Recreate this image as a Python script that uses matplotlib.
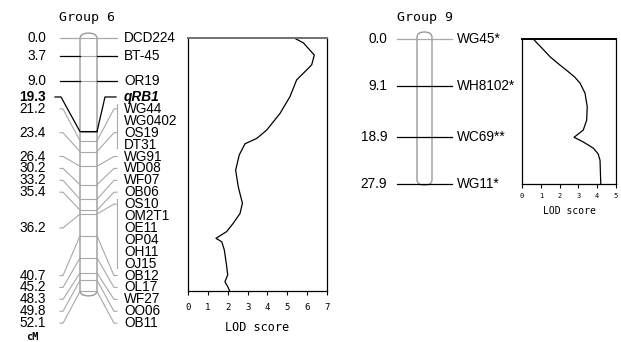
import numpy as np
import matplotlib
matplotlib.use("Agg")
import matplotlib.pyplot as plt
from matplotlib.patches import FancyBboxPatch

W, H = 621, 342
MONO = "DejaVu Sans Mono"
SANS = "Liberation Sans"
GRAY = "#a8a8a8"
LABEL_SIZE = 9.8

# Group 6 map data
G6_MARKERS = ["DCD224", "BT-45", "OR19", "qRB1", "WG44", "WG0402", "OS19",
              "DT31", "WG91", "WD08", "WF07", "OB06", "OS10", "OM2T1", "OE11",
              "OP04", "OH11", "OJ15", "OB12", "OL17", "WF27", "OO06", "OB11"]
G6_MARKER_CM = [0.0, 3.7, 9.0, 19.3, 21.2, 21.2, 23.4, 23.4, 26.4, 30.2, 33.2,
                35.4, 36.2, 36.2, 36.2, 36.2, 36.2, 36.2, 40.7, 45.2, 48.3,
                49.8, 52.1]
G6_POS_CM = [0.0, 3.7, 9.0, 19.3, 21.2, 23.4, 26.4, 30.2, 33.2, 35.4, 36.2,
             40.7, 45.2, 48.3, 49.8, 52.1]
G6_POS_ROWS = [0, 1, 2, 3, 4, 6, 8, 9, 10, 11, 14, 18, 19, 20, 21, 22]
G6_BRACKETS = [(4, 7), (12, 17)]

# Group 6 LOD profile
G6_LOD = [5.30, 5.81, 6.36, 6.23, 5.89, 5.47, 5.14, 4.63, 3.96, 3.46, 2.87,
          2.58, 2.40, 2.53, 2.74, 2.62, 2.28, 1.95, 1.41, 1.70, 1.83, 1.95,
          2.00, 1.86, 2.00, 2.11]
G6_LOD_CM = [0.0, 1.1, 3.6, 5.6, 7.0, 8.7, 12.1, 15.6, 19.0, 20.7, 21.8,
             24.1, 27.2, 30.6, 34.0, 36.1, 38.1, 39.8, 41.2, 41.9, 43.6, 47.0,
             48.7, 50.1, 51.1, 52.1]

# Group 9 map data
G9_MARKERS = ["WG45*", "WH8102*", "WC69**", "WG11*"]
G9_MARKER_CM = [0.0, 9.1, 18.9, 27.9]

# Group 9 LOD profile
G9_LOD = [0.57, 1.02, 1.49, 1.95, 2.40, 2.80, 3.09, 3.35, 3.47, 3.44, 3.26,
          2.77, 3.26, 3.80, 4.05, 4.15, 4.19]
G9_LOD_CM = [0.0, 1.7, 3.5, 4.9, 6.2, 7.4, 8.6, 10.5, 13.1, 15.7, 17.6, 19.0,
             19.9, 21.1, 22.2, 23.4, 27.9]


def px_axes(fig, left, top, right, bottom):
    return fig.add_axes([left / W, 1 - bottom / H,
                         (right - left) / W, (bottom - top) / H])


def map_axes(fig, top_px, px_per_cm):
    ax = fig.add_axes([0, 0, 1, 1])
    ax.set_xlim(0, W)
    ax.set_ylim((H - top_px) / px_per_cm, -top_px / px_per_cm)
    ax.axis("off")
    return ax


def chromosome(ax, x0, x1, top, bottom, px_per_cm):
    cap = 5.5 / px_per_cm
    r = (x1 - x0) / 2
    box = FancyBboxPatch((x0, top), x1 - x0, bottom - top,
                         boxstyle=f"round,pad=0,rounding_size={r}",
                         mutation_aspect=cap / r,
                         facecolor="white", edgecolor="#9a9a9a", lw=1.0,
                         zorder=1)
    ax.add_patch(box)


def lod_axes(ax, lod, cm, xmax, tick_size, label_size, pad, labelpad,
             top_color):
    ax.plot(lod, cm, color="black", lw=0.9)
    ax.set_xlim(0, xmax)
    ax.set_ylim(cm[-1], 0)
    ax.set_yticks([])
    ax.set_xticks(range(xmax + 1))
    ax.tick_params(axis="x", direction="out", length=3, width=0.8,
                   labelsize=tick_size, pad=pad)
    for lab in ax.get_xticklabels():
        lab.set_fontfamily(MONO)
    ax.set_xlabel("LOD score", fontfamily=MONO, fontsize=label_size,
                  labelpad=labelpad)
    for side in ["left", "right", "bottom"]:
        ax.spines[side].set_linewidth(0.9)
    ax.spines["top"].set_color(top_color)
    ax.spines["top"].set_linewidth(1.4)


fig = plt.figure(figsize=(W / 100, H / 100), dpi=100)

# ---- Group 6 linkage map ----
G6_TOP, G6_SCALE = 37.5, 4.875
ax6 = map_axes(fig, G6_TOP, G6_SCALE)
chromosome(ax6, 80, 97, -0.9, 53.0, G6_SCALE)

# label rows: first three at their own position, the rest spread evenly
rows = list(G6_MARKER_CM[:3]) + list(np.linspace(12.2, 58.6, 20))

for p in sorted(set(G6_MARKER_CM)):
    ax6.plot([80, 97], [p, p], color=GRAY, lw=0.8, zorder=2)

# left connectors with cM values
for val, r in zip(G6_POS_CM, G6_POS_ROWS):
    ry = rows[r]
    if r < 3:
        color = GRAY if r == 0 else "black"
        ax6.plot([60, 80], [val, val], color=color, lw=0.9, zorder=3)
    elif r == 3:
        ax6.plot([55, 61, 80, 97], [ry, ry, val, val], color="black",
                 lw=0.9, zorder=3)
    else:
        ax6.plot([60, 63, 80], [ry, ry, val], color=GRAY, lw=0.8, zorder=2)
    ax6.text(46, ry, f"{val:.1f}", ha="right", va="center",
             fontsize=LABEL_SIZE, fontfamily=SANS,
             fontweight="bold" if r == 3 else "normal")

# right connectors with markers
in_bracket = set()
for a, b in G6_BRACKETS:
    in_bracket.update(range(a, b + 1))
for i, (name, p) in enumerate(zip(G6_MARKERS, G6_MARKER_CM)):
    ry = rows[i]
    if i < 3:
        color = GRAY if i == 0 else "black"
        ax6.plot([97, 117], [p, p], color=color, lw=0.9, zorder=3)
    elif i == 3:
        ax6.plot([97, 105, 116], [p, ry, ry], color="black", lw=0.9, zorder=3)
    elif i not in in_bracket or G6_MARKER_CM[i - 1] != p:
        ax6.plot([97, 114, 117], [p, ry, ry], color=GRAY, lw=0.8, zorder=2)
    if i == 3:
        ax6.text(124, ry, name, ha="left", va="center", fontsize=LABEL_SIZE,
                 fontfamily=SANS, fontweight="bold", fontstyle="italic")
    else:
        ax6.text(124, ry, name, ha="left", va="center", fontsize=LABEL_SIZE,
                 fontfamily=SANS)

for a, b in G6_BRACKETS:
    ax6.plot([117, 117], [rows[a] - 1.0, rows[b] + 0.8], color=GRAY, lw=0.8)

fig.text(87 / W, 1 - 18 / H, "Group 6", ha="center", va="center",
         fontfamily=MONO, fontsize=9.5)
fig.text(32 / W, 1 - 337 / H, "cM", ha="center", va="center",
         fontfamily=MONO, fontsize=7.5, fontweight="bold")

# ---- Group 9 linkage map ----
G9_TOP, G9_SCALE = 38.5, 5.2
ax9 = map_axes(fig, G9_TOP, G9_SCALE)
chromosome(ax9, 417, 432, -1.25, 28.2, G9_SCALE)
for i, (name, p) in enumerate(zip(G9_MARKERS, G9_MARKER_CM)):
    color = GRAY if i == 0 else "black"
    ax9.plot([397, 452], [p, p], color=color, lw=0.9, zorder=3)
    ax9.text(387, p, f"{p:.1f}", ha="right", va="center",
             fontsize=LABEL_SIZE, fontfamily=SANS)
    ax9.text(457, p, name, ha="left", va="center", fontsize=LABEL_SIZE,
             fontfamily=SANS)
fig.text(425 / W, 1 - 18 / H, "Group 9", ha="center", va="center",
         fontfamily=MONO, fontsize=9.5)

# ---- LOD panels ----
axL6 = px_axes(fig, 188, G6_TOP, 327, G6_TOP + 52.1 * G6_SCALE)
lod_axes(axL6, G6_LOD, G6_LOD_CM, 7, 6.5, 8.5, 5, 7, "#707070")

axL9 = px_axes(fig, 522, G9_TOP, 616, G9_TOP + 27.9 * G9_SCALE)
lod_axes(axL9, G9_LOD, G9_LOD_CM, 5, 5, 7, 4, 5, "black")

fig.savefig("out.png", dpi=100)
